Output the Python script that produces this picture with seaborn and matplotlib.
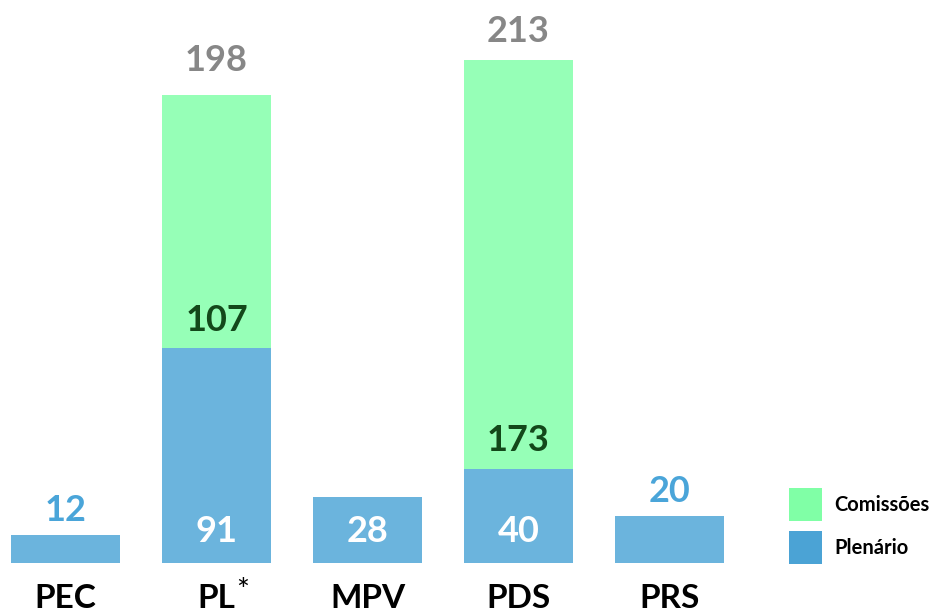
import matplotlib
matplotlib.use("Agg")
import matplotlib.pyplot as plt
import matplotlib.transforms as mtransforms
from matplotlib.patches import Rectangle
import seaborn as sns
import pandas as pd

categories = ["PEC", "PL*", "MPV", "PDS", "PRS"]
plenario = [12, 91, 28, 40, 20]
comissoes = [0, 107, 0, 173, 0]

BLUE_BAR = "#6BB4DD"
BLUE_TXT = "#4AA5D9"
GREEN_BAR = "#96FFB7"
GREEN_LEG = "#80FFA6"
BLUE_LEG = "#4BA3D5"
DARK_GREEN = "#13481A"
GREY = "#878787"

sns.set_theme(style="white")
plt.rcParams["font.family"] = ["Lato", "DejaVu Sans"]

df = pd.DataFrame({
    "tipo": categories,
    "plenario": plenario,
    "comissoes": comissoes,
})
df["total"] = df["plenario"] + df["comissoes"]

W, H = 936, 614
fig = plt.figure(figsize=(W / 100, H / 100), dpi=100)
base_px = 563
ax = fig.add_axes([0, (H - base_px) / H, 1, base_px / H])

px_per_unit = (563 - 60) / 213
xlim = (-65.5 / 151, (W - 65.5) / 151)

# stacked bars: total (committees on top) drawn first, floor over it
sns.barplot(data=df, x="tipo", y="total", color=GREEN_BAR, width=0.722,
            saturation=1, linewidth=0, ax=ax, order=categories)
sns.barplot(data=df, x="tipo", y="plenario", color=BLUE_BAR, width=0.722,
            saturation=1, linewidth=0, ax=ax, order=categories)
ax.set_ylim(0, base_px / px_per_unit)
ax.set_xlim(*xlim)
ax.set_axis_off()

bold = dict(fontweight="bold", ha="center", va="center")
total_offsets = {1: 35, 3: 28}
for i, (p, c) in enumerate(zip(plenario, comissoes)):
    if c > 0:
        ax.annotate(f"{p + c}", xy=(i, p + c), xytext=(0, total_offsets.get(i, 32)),
                    textcoords="offset pixels", color=GREY, fontsize=26, **bold)
        ax.annotate(f"{c}", xy=(i, p), xytext=(0, 28),
                    textcoords="offset pixels", color=DARK_GREEN, fontsize=26, **bold)
    if p >= 28:
        ax.annotate(f"{p}", xy=(i, 0), xytext=(0, 31),
                    textcoords="offset pixels", color="white", fontsize=26, **bold)
    else:
        ax.annotate(f"{p}", xy=(i, p), xytext=(0, 24),
                    textcoords="offset pixels", color=BLUE_TXT, fontsize=26, **bold)

# category names under the bars
trans = mtransforms.blended_transform_factory(ax.transData, fig.transFigure)
label_y = (H - 598) / H
for i, name in enumerate(categories):
    if name.endswith("*"):
        base = name[:-1]
        ax.annotate(base, xy=(i, label_y), xycoords=trans, xytext=(0, 0),
                    textcoords="offset pixels", fontsize=24, color="black", **bold)
        ax.annotate("*", xy=(i, label_y), xycoords=trans, xytext=(26, 7),
                    textcoords="offset pixels", fontsize=22, color="black",
                    ha="center", va="center")
    else:
        ax.text(i, label_y, name, transform=trans, fontsize=24,
                color="black", **bold)

# legend
for (label, col, top) in [("Comissões", GREEN_LEG, 488), ("Plenário", BLUE_LEG, 531)]:
    fig.patches.append(Rectangle((789 / W, (H - top - 33) / H), 33 / W, 33 / H,
                                 transform=fig.transFigure, color=col, lw=0))
    fig.text(834 / W, (H - top - 17) / H, label, fontsize=14.5, fontweight="bold",
             ha="left", va="center", color="black")

fig.savefig("out.png", dpi=100)
